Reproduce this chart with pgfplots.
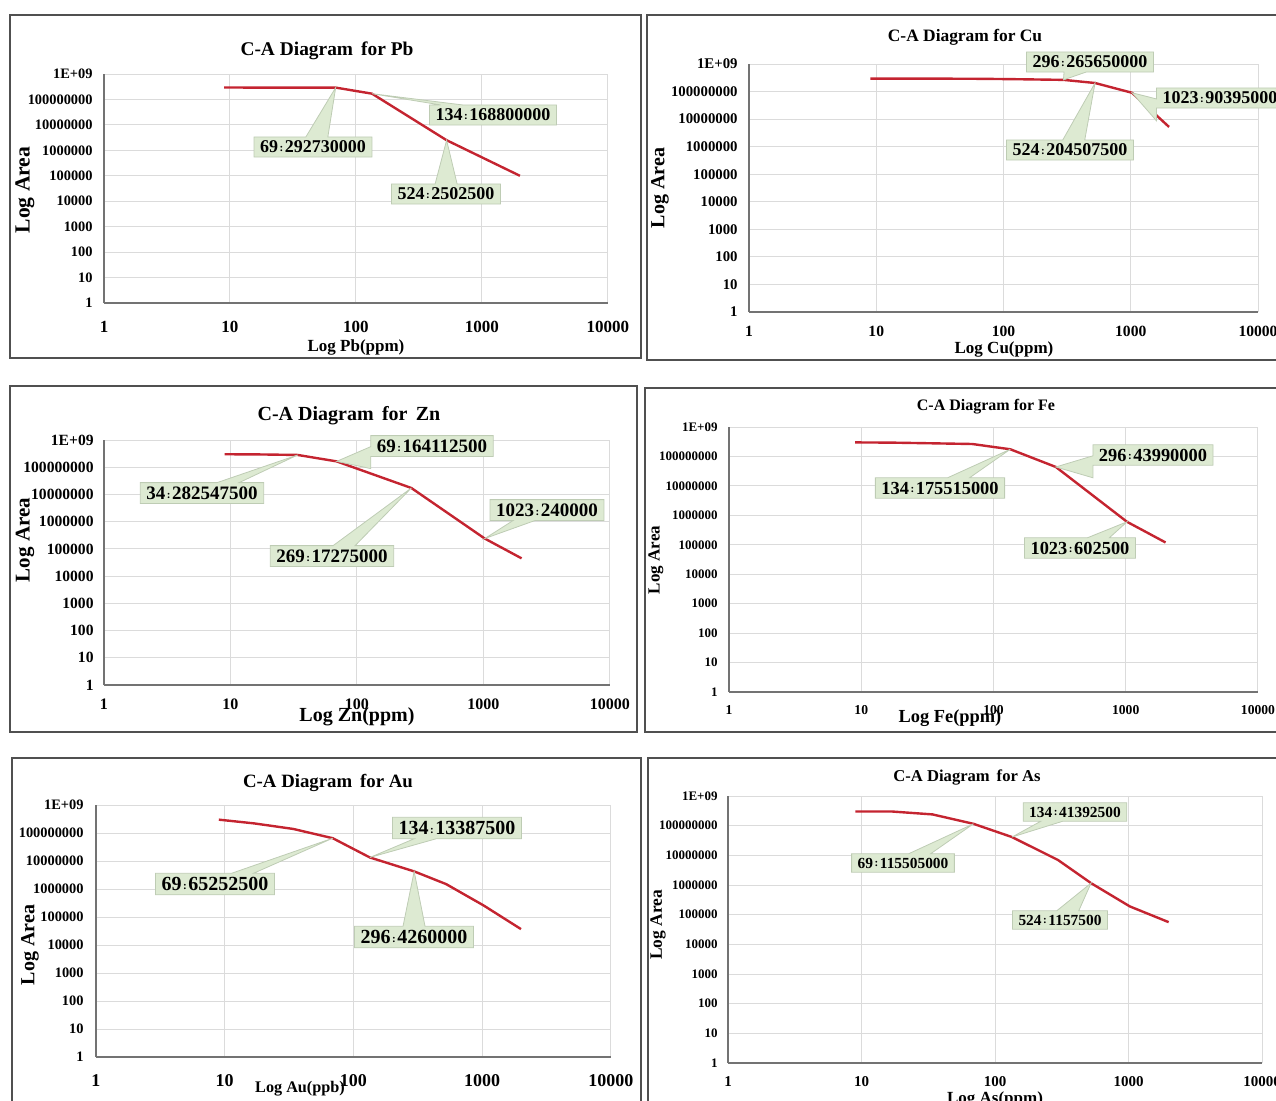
\documentclass[border=0pt]{standalone}
\usepackage{fontspec}
\setmainfont{Liberation Serif}
\usepackage{pgfplots}
\pgfplotsset{compat=1.18}
\usetikzlibrary{shapes.callouts}
\definecolor{cared}{RGB}{196,36,48}
\definecolor{cofill}{RGB}{221,234,210}
\definecolor{codraw}{RGB}{190,204,180}
\definecolor{frame}{RGB}{80,80,80}
\newcommand{\fs}[1]{\fontsize{#1}{#1}\selectfont\bfseries}
\newcommand{\sep}{\kern0.8pt\raisebox{0.6pt}{\fontsize{5.5}{5.5}\selectfont:}\kern0.8pt}
\pgfplotsset{
  scale only axis,
  xmin=1, xmax=10000, ymin=1, ymax=1e9,
  xtick={1,10,100,1000,10000}, xticklabels={1,10,100,1000,10000},
  ytick={1,10,100,1000,10000,100000,1000000,10000000,100000000,1000000000},
  yticklabels={1,10,100,1000,10000,100000,1000000,10000000,100000000,1E+09},
  minor xtick={}, minor ytick={},
  xmajorgrids, ymajorgrids, major grid style={draw=black!14, line width=0.5pt},
  axis x line*=bottom, axis y line*=left,
  axis line style={draw=black!55, line width=0.9pt, -},
  major tick length=0pt, minor tick length=0pt,
  xticklabel style={anchor=center, inner sep=0pt},
  yticklabel style={anchor=east, inner sep=0pt},
  clip=false
}
\tikzset{co/.style={rectangle callout, fill=cofill, draw=codraw, line width=0.4pt,
  inner xsep=3pt, inner ysep=2pt, callout pointer width=11pt},
  ln/.style={cared, line width=1.2pt, mark=none}}
\begin{document}
\begin{tikzpicture}[x=0.5pt,y=-0.5pt]
\path[use as bounding box] (0,0) rectangle (1276,1100);
% frames
\draw[frame, line width=0.75pt] (10,15) rectangle (641,358);
\draw[frame, line width=0.75pt] (647,15) rectangle (1290,360);
\draw[frame, line width=0.75pt] (10,386) rectangle (637,732);
\draw[frame, line width=0.75pt] (645,388) rectangle (1290,732);
\draw[frame, line width=0.75pt] (12,758) rectangle (641,1110);
\draw[frame, line width=0.75pt] (648,758) rectangle (1290,1110);

% ---------- Pb ----------
\begin{loglogaxis}[anchor=south west, at={(52pt,-151.5pt)}, width=252pt, height=114.5pt,
  yticklabel style={font=\fs{7.2}, xshift=-5.5pt},
  xticklabel style={font=\fs{8.5}, yshift=-12pt}]
\addplot[ln] coordinates {(9,2.95e8) (17,2.93e8) (34,2.93e8) (69,292730000) (134,168800000) (524,2502500) (2000,1e5)};
\coordinate (pbA) at (axis cs:69,292730000);
\coordinate (pbB) at (axis cs:134,168800000);
\coordinate (pbC) at (axis cs:524,2502500);
\end{loglogaxis}
\node[font=\fs{9.7}] at (327,51) {C-A Diagram\, for Pb};
\node[font=\fs{10.8}, rotate=90] at (25,190) {Log Area};
\node[font=\fs{8.5}] at (356,347) {Log Pb(ppm)};
\node[co, font=\fs{9}, callout absolute pointer={(pbB)}] at (493,115) {134\sep168800000};
\node[co, font=\fs{9}, callout absolute pointer={(pbA)}] at (313,147) {69\sep292730000};
\node[co, font=\fs{9}, callout absolute pointer={(pbC)}] at (446,194) {524\sep2502500};

% ---------- Cu ----------
\begin{loglogaxis}[anchor=south west, at={(374.5pt,-156pt)}, width=254.5pt, height=124pt,
  yticklabel style={font=\fs{7.4}, xshift=-5.5pt},
  xticklabel style={font=\fs{7.8}, yshift=-9.5pt}]
\addplot[ln] coordinates {(9,2.96e8) (17,2.95e8) (34,2.94e8) (69,2.9e8) (134,2.8e8) (296,265650000) (524,204507500) (1023,90395000) (2000,5.2e6)};
\coordinate (cuA) at (axis cs:296,265650000);
\coordinate (cuB) at (axis cs:524,204507500);
\coordinate (cuC) at (axis cs:1023,90395000);
\end{loglogaxis}
\node[font=\fs{8.7}] at (965,37) {C-A Diagram for Cu};
\node[font=\fs{10}, rotate=90] at (660,188) {Log Area};
\node[font=\fs{8.5}] at (1004,349) {Log Cu(ppm)};
\node[co, font=\fs{9}, callout absolute pointer={(cuA)}] at (1090,62) {296\sep265650000};
\node[co, font=\fs{9}, callout absolute pointer={(cuC)}] at (1220,98) {1023\sep90395000};
\node[co, font=\fs{9}, callout absolute pointer={(cuB)}] at (1070,150) {524\sep204507500};

% ---------- Zn ----------
\begin{loglogaxis}[anchor=south west, at={(52pt,-342.5pt)}, width=253pt, height=122.5pt,
  yticklabel style={font=\fs{7.8}, xshift=-5pt},
  xticklabel style={font=\fs{8}, yshift=-9.5pt}]
\addplot[ln] coordinates {(9,3e8) (17,2.95e8) (34,282547500) (69,164112500) (269,17275000) (1023,240000) (2000,4.5e4)};
\coordinate (znA) at (axis cs:34,282547500);
\coordinate (znB) at (axis cs:69,164112500);
\coordinate (znC) at (axis cs:269,17275000);
\coordinate (znD) at (axis cs:1023,240000);
\end{loglogaxis}
\node[font=\fs{10}] at (349,416) {C-A Diagram\, for\, Zn};
\node[font=\fs{10.5}, rotate=90] at (25,540) {Log Area};
\node[font=\fs{10}] at (357,717) {Log Zn(ppm)};
\node[co, font=\fs{9.5}, callout absolute pointer={(znB)}] at (432,446) {69\sep164112500};
\node[co, font=\fs{9.5}, callout absolute pointer={(znA)}] at (202,493) {34\sep282547500};
\node[co, font=\fs{9.5}, callout absolute pointer={(znD)}] at (547,510) {1023\sep240000};
\node[co, font=\fs{9.5}, callout absolute pointer={(znC)}] at (332,556) {269\sep17275000};

% ---------- Fe ----------
\begin{loglogaxis}[anchor=south west, at={(364.5pt,-346pt)}, width=264.5pt, height=132.5pt,
  yticklabel style={font=\fs{6.5}, xshift=-5.5pt},
  xticklabel style={font=\fs{6.8}, yshift=-9pt}]
\addplot[ln] coordinates {(9,3e8) (17,2.95e8) (34,2.8e8) (69,2.65e8) (134,175515000) (296,43990000) (1023,602500) (2000,1.2e5)};
\coordinate (feA) at (axis cs:134,175515000);
\coordinate (feB) at (axis cs:296,43990000);
\coordinate (feC) at (axis cs:1023,602500);
\end{loglogaxis}
\node[font=\fs{8}] at (986,407) {C-A Diagram for Fe};
\node[font=\fs{8.5}, rotate=90] at (656,560) {Log Area};
\node[font=\fs{9.2}] at (950,718) {Log Fe(ppm)};
\node[co, font=\fs{9.2}, callout absolute pointer={(feA)}] at (940,488) {134\sep175515000};
\node[co, font=\fs{9.2}, callout absolute pointer={(feB)}] at (1153,455) {296\sep43990000};
\node[co, font=\fs{9.2}, callout absolute pointer={(feC)}] at (1080,548) {1023\sep602500};

% ---------- Au ----------
\begin{loglogaxis}[anchor=south west, at={(48pt,-528.5pt)}, width=257.5pt, height=126pt,
  yticklabel style={font=\fs{7.2}, xshift=-6pt},
  xticklabel style={font=\fs{9}, yshift=-12pt}]
\addplot[ln] coordinates {(9,3e8) (17,2.2e8) (34,1.4e8) (69,65252500) (134,13387500) (296,4260000) (524,1.5e6) (1023,2.6e5) (2000,3.7e4)};
\coordinate (auA) at (axis cs:69,65252500);
\coordinate (auB) at (axis cs:134,13387500);
\coordinate (auC) at (axis cs:296,4260000);
\end{loglogaxis}
\node[font=\fs{9.4}] at (328,783) {C-A Diagram\, for Au};
\node[font=\fs{10}, rotate=90] at (30,945) {Log Area};
\node[font=\fs{8.1}] at (300,1089) {Log Au(ppb)};
\node[co, font=\fs{10}, callout absolute pointer={(auB)}] at (457,828) {134\sep13387500};
\node[co, font=\fs{10}, callout absolute pointer={(auA)}] at (215,884) {69\sep65252500};
\node[co, font=\fs{10}, callout absolute pointer={(auC)}] at (414,937) {296\sep4260000};

% ---------- As ----------
\begin{loglogaxis}[anchor=south west, at={(364pt,-531.5pt)}, width=267pt, height=133.5pt,
  yticklabel style={font=\fs{6.5}, xshift=-5pt},
  xticklabel style={font=\fs{7.5}, yshift=-9.5pt}]
\addplot[ln] coordinates {(9,3e8) (17,3e8) (34,2.4e8) (69,115505000) (134,41392500) (296,7e6) (524,1157500) (1023,1.9e5) (2000,5.6e4)};
\coordinate (asA) at (axis cs:69,115505000);
\coordinate (asB) at (axis cs:134,41392500);
\coordinate (asC) at (axis cs:524,1157500);
\end{loglogaxis}
\node[font=\fs{8.3}] at (967,777) {C-A Diagram\, for As};
\node[font=\fs{8.7}, rotate=90] at (658,925) {Log Area};
\node[font=\fs{8.5}] at (995,1099) {Log As(ppm)};
\node[co, font=\fs{7.7}, callout absolute pointer={(asB)}] at (1075,812) {134\sep41392500};
\node[co, font=\fs{7.7}, callout absolute pointer={(asA)}] at (903,863) {69\sep115505000};
\node[co, font=\fs{7.7}, callout absolute pointer={(asC)}] at (1060,920) {524\sep1157500};
\end{tikzpicture}
\end{document}
